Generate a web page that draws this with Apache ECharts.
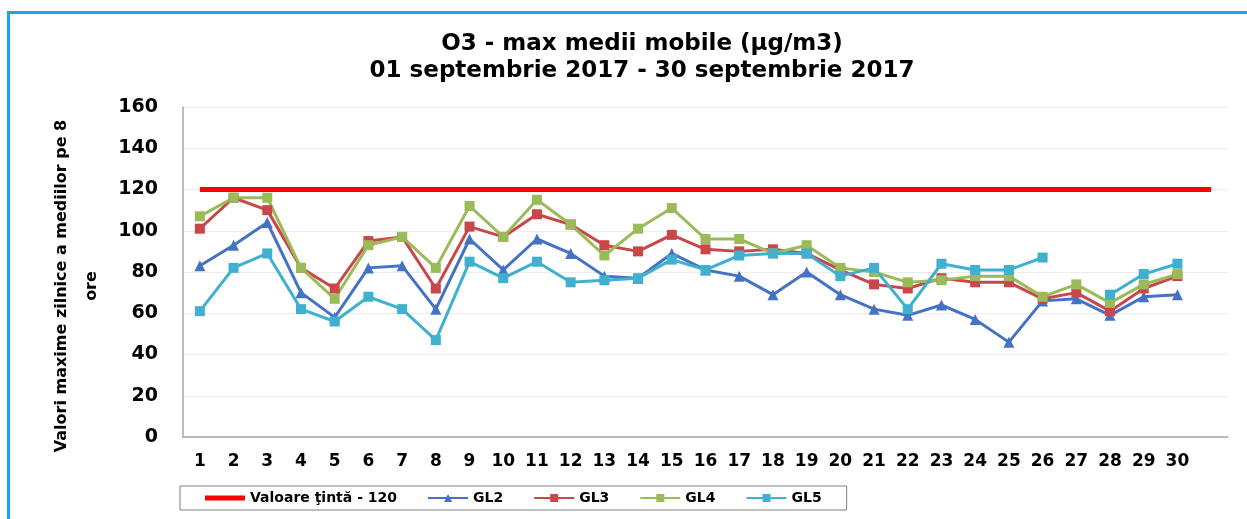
<!DOCTYPE html>
<html>
<head>
<meta charset="utf-8">
<script src="https://cdn.jsdelivr.net/npm/echarts@6/dist/echarts.min.js"></script>
<style>
    html, body { margin: 0; padding: 0; background: #fff; }
    #line { position: absolute; left: 0; top: 0; width: 1247px; height: 519px; }
    #frame { position: absolute; left: 7px; top: 11px; width: 1240px; height: 508px;
             border-top: 3px solid #16a6ec; border-left: 3px solid #16a6ec; pointer-events: none; }
</style>
</head>
<body>
<div id="line"></div>
<div id="frame"></div>
<script>
    // zilele lunii (ultima categorie e goala, ca in graficul original)
    var days = ['1','2','3','4','5','6','7','8','9','10','11','12','13','14','15','16','17','18','19','20','21','22','23','24','25','26','27','28','29','30','']
    var target = [120,120,120,120,120,120,120,120,120,120,120,120,120,120,120,120,120,120,120,120,120,120,120,120,120,120,120,120,120,120,120]
    var gl2 = [83, 93, 104, 70, 58, 82, 83, 62, 96, 81, 96, 89, 78, 77, 89, 81, 78, 69, 80, 69, 62, 59, 64, 57, 46, 66, 67, 59, 68, 69]
    var gl3 = [101, 116, 110, 82, 72, 95, 97, 72, 102, 97, 108, 103, 93, 90, 98, 91, 90, 91, 89, 81, 74, 72, 77, 75, 75, 67, 70, 61, 72, 78]
    var gl4 = [107, 116, 116, 82, 67, 93, 97, 82, 112, 97, 115, 103, 88, 101, 111, 96, 96, 89, 93, 82, 80, 75, 76, 78, 78, 68, 74, 65, 74, 79]
    var gl5 = [61, 82, 89, 62, 56, 68, 62, 47, 85, 77, 85, 75, 76, 77, 86, 81, 88, 89, 89, 78, 82, 62, 84, 81, 81, 87, null, 69, 79, 84]

    var font = 'DejaVu Sans'

    let myChart = echarts.init(document.getElementById('line'))

    function glSeries(name, data, color, symbol) {
        return {
            name: name,
            type: 'line',
            data: data,
            symbol: symbol,
            symbolSize: symbol === 'triangle' ? 11 : 10,
            lineStyle: { color: color, width: 3 },
            itemStyle: { color: color },
            z: 3
        }
    }

    let option = {
        animation: false,
        title: {
            text: 'O3 - max medii mobile (µg/m3)\n01 septembrie 2017 - 30 septembrie 2017',
            left: 637,
            textAlign: 'center',
            top: 26,
            textStyle: { fontFamily: font, fontWeight: 'bold', fontSize: 23, lineHeight: 27, color: '#000' }
        },
        legend: {
            left: 180,
            top: 486,
            padding: [5, 25, 5, 25],
            borderColor: '#7f7f7f',
            borderWidth: 1,
            itemWidth: 40,
            itemHeight: 10,
            itemGap: 30,
            textStyle: { fontFamily: font, fontWeight: 'bold', fontSize: 14, color: '#000' },
            data: [
                // linie rosie groasa, fara marker
                { name: 'Valoare ţintă - 120', icon: 'path://M0,0 L40,0 L40,5 L0,5 Z', itemStyle: { color: '#ff0000' } },
                'GL2', 'GL3', 'GL4', 'GL5'
            ]
        },
        grid: { left: 183, right: 19, top: 107, bottom: 82 },
        xAxis: {
            type: 'category',
            data: days,
            boundaryGap: true,
            axisLine: { lineStyle: { color: '#a6a6a6', width: 1.5 } },
            axisTick: { show: false },
            axisLabel: { interval: 0, margin: 16, fontFamily: font, fontWeight: 'bold', fontSize: 17, color: '#000' }
        },
        yAxis: {
            type: 'value',
            min: 0,
            max: 160,
            interval: 20,
            name: 'Valori maxime zilnice a mediilor pe 8\nore',
            nameLocation: 'middle',
            nameGap: 76,
            nameTextStyle: { fontFamily: font, fontWeight: 'bold', fontSize: 16, lineHeight: 30, color: '#000', padding: [0, 28, 0, 0] },
            axisLine: { show: true, lineStyle: { color: '#a6a6a6', width: 1.5 } },
            axisTick: { show: false },
            axisLabel: { margin: 25, fontFamily: font, fontWeight: 'bold', fontSize: 19, color: '#000' },
            splitLine: { lineStyle: { color: '#ececec' } }
        },
        series: [
            {
                name: 'Valoare ţintă - 120',
                type: 'line',
                data: target,
                symbol: 'none',
                lineStyle: { color: '#ff0000', width: 5 },
                itemStyle: { color: '#ff0000' },
                z: 2
            },
            glSeries('GL2', gl2, '#4472c4', 'triangle'),
            glSeries('GL3', gl3, '#c9474a', 'rect'),
            glSeries('GL4', gl4, '#9bbb59', 'rect'),
            glSeries('GL5', gl5, '#3fb0cf', 'rect')
        ]
    }
    myChart.setOption(option)
</script>
</body>
</html>
